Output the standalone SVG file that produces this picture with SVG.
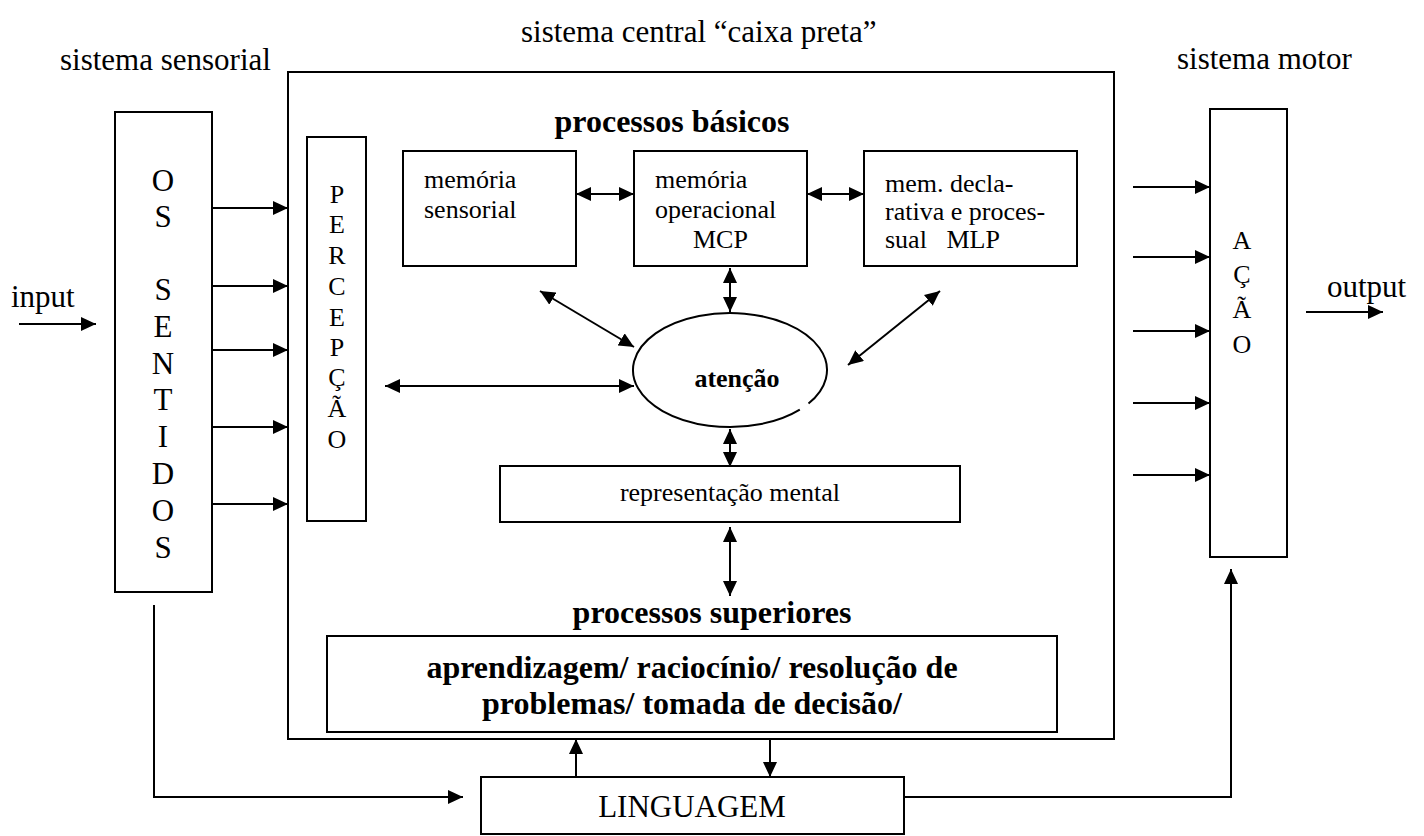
<svg xmlns="http://www.w3.org/2000/svg" width="1424" height="836" viewBox="0 0 1424 836">
<style>
text{font-family:"Liberation Serif","Times New Roman",serif;fill:#000}
.t31{font-size:31px}
.t26{font-size:26px}
.b32{font-size:32px;font-weight:bold}
.b26{font-size:26px;font-weight:bold}
.box{fill:#fff;stroke:#000;stroke-width:2}
.ln{fill:none;stroke:#000;stroke-width:2}
.c{text-anchor:middle}
</style>
<defs>
<marker id="ah" markerUnits="userSpaceOnUse" markerWidth="15" markerHeight="14" refX="15" refY="7" orient="auto-start-reverse" viewBox="0 0 15 14">
<path d="M0,0 L15,7 L0,14 z" fill="#000"/>
</marker>
</defs>
<rect width="1424" height="836" fill="#fff"/>

<g id="labels">
<text class="t31" x="521" y="42">sistema central “caixa preta”</text>
<text class="t31" x="60" y="70">sistema sensorial</text>
<text class="t31" x="1177" y="69">sistema motor</text>
<text class="t31" x="11" y="307">input</text>
<text class="t31" x="1327" y="297">output</text>
</g>

<g id="central">
<rect class="box" x="288" y="72" width="826" height="667"/>
<text class="b32 c" x="672" y="132">processos básicos</text>
<text class="b32 c" x="712" y="623">processos superiores</text>
</g>

<g id="sentidos">
<rect class="box" x="115" y="112" width="97" height="480"/>
<text class="t31 c"><tspan x="163" y="191">O</tspan><tspan x="163" y="227">S</tspan><tspan x="163" y="300">S</tspan><tspan x="163" y="337">E</tspan><tspan x="163" y="374">N</tspan><tspan x="163" y="410">T</tspan><tspan x="163" y="447">I</tspan><tspan x="163" y="484">D</tspan><tspan x="163" y="521">O</tspan><tspan x="163" y="558">S</tspan></text>
</g>

<g id="percepcao">
<rect class="box" x="307" y="137" width="59" height="384"/>
<text class="t26 c"><tspan x="337" y="203">P</tspan><tspan x="337" y="233">E</tspan><tspan x="337" y="264">R</tspan><tspan x="337" y="295">C</tspan><tspan x="337" y="326">E</tspan><tspan x="337" y="356">P</tspan><tspan x="337" y="386">Ç</tspan><tspan x="337" y="417">Ã</tspan><tspan x="337" y="448">O</tspan></text>
</g>

<g id="mem-sensorial">
<rect class="box" x="403" y="151" width="173" height="115"/>
<text class="t26"><tspan x="424" y="188">memória</tspan><tspan x="424" y="218">sensorial</tspan></text>
</g>

<g id="mem-operacional">
<rect class="box" x="634" y="151" width="173" height="115"/>
<text class="t26"><tspan x="655" y="188">memória</tspan><tspan x="655" y="218">operacional</tspan><tspan x="693" y="248">MCP</tspan></text>
</g>

<g id="mem-declarativa">
<rect class="box" x="864" y="151" width="213" height="115"/>
<text class="t26"><tspan x="885" y="192">mem. decla-</tspan><tspan x="885" y="220">rativa e proces-</tspan><tspan x="885" y="248" xml:space="preserve">sual   MLP</tspan></text>
</g>

<g id="atencao">
<path class="ln" d="M808.5,403.5 A97,57 0 1 0 799.8,409.6"/>
<text class="b26 c" x="737" y="387">atenção</text>
</g>

<g id="representacao">
<rect class="box" x="500" y="466" width="460" height="56"/>
<text class="t26 c" x="730" y="501">representação mental</text>
</g>

<g id="superiores">
<rect class="box" x="327" y="636" width="730" height="96"/>
<text class="b32 c" x="692" y="678">aprendizagem/ raciocínio/ resolução de</text>
<text class="b32 c" x="692" y="714">problemas/ tomada de decisão/</text>
</g>

<g id="acao">
<rect class="box" x="1210" y="109" width="77" height="448"/>
<text class="t26 c"><tspan x="1242" y="249">A</tspan><tspan x="1242" y="283">Ç</tspan><tspan x="1242" y="318">Ã</tspan><tspan x="1242" y="353">O</tspan></text>
</g>

<g id="linguagem">
<rect class="box" x="481" y="777" width="423" height="57"/>
<text class="t31 c" x="692" y="817">LINGUAGEM</text>
</g>

<g id="connectors" class="ln">
<line x1="19" y1="324" x2="96" y2="324" marker-end="url(#ah)"/>
<line x1="212" y1="208" x2="288" y2="208" marker-end="url(#ah)"/>
<line x1="212" y1="286" x2="288" y2="286" marker-end="url(#ah)"/>
<line x1="212" y1="350" x2="288" y2="350" marker-end="url(#ah)"/>
<line x1="212" y1="427" x2="288" y2="427" marker-end="url(#ah)"/>
<line x1="212" y1="504" x2="288" y2="504" marker-end="url(#ah)"/>
<line x1="576" y1="194" x2="634" y2="194" marker-start="url(#ah)" marker-end="url(#ah)"/>
<line x1="807" y1="194" x2="864" y2="194" marker-start="url(#ah)" marker-end="url(#ah)"/>
<line x1="730" y1="268" x2="730" y2="312" marker-start="url(#ah)" marker-end="url(#ah)"/>
<line x1="540" y1="291" x2="634" y2="347" marker-start="url(#ah)" marker-end="url(#ah)"/>
<line x1="940" y1="291" x2="848" y2="365" marker-start="url(#ah)" marker-end="url(#ah)"/>
<line x1="385" y1="386" x2="634" y2="386" marker-start="url(#ah)" marker-end="url(#ah)"/>
<line x1="730" y1="429" x2="730" y2="467" marker-start="url(#ah)" marker-end="url(#ah)"/>
<line x1="730" y1="527" x2="730" y2="596" marker-start="url(#ah)" marker-end="url(#ah)"/>
<line x1="1133" y1="187" x2="1210" y2="187" marker-end="url(#ah)"/>
<line x1="1133" y1="257" x2="1210" y2="257" marker-end="url(#ah)"/>
<line x1="1133" y1="331" x2="1210" y2="331" marker-end="url(#ah)"/>
<line x1="1133" y1="403" x2="1210" y2="403" marker-end="url(#ah)"/>
<line x1="1133" y1="475" x2="1210" y2="475" marker-end="url(#ah)"/>
<line x1="1306" y1="312" x2="1383" y2="312" marker-end="url(#ah)"/>
<line x1="576" y1="777" x2="576" y2="739" marker-end="url(#ah)"/>
<line x1="770" y1="739" x2="770" y2="777" marker-end="url(#ah)"/>
<polyline points="154,605 154,797 463,797" marker-end="url(#ah)"/>
<polyline points="904,797 1231,797 1231,569" marker-end="url(#ah)"/>
</g>
</svg>
